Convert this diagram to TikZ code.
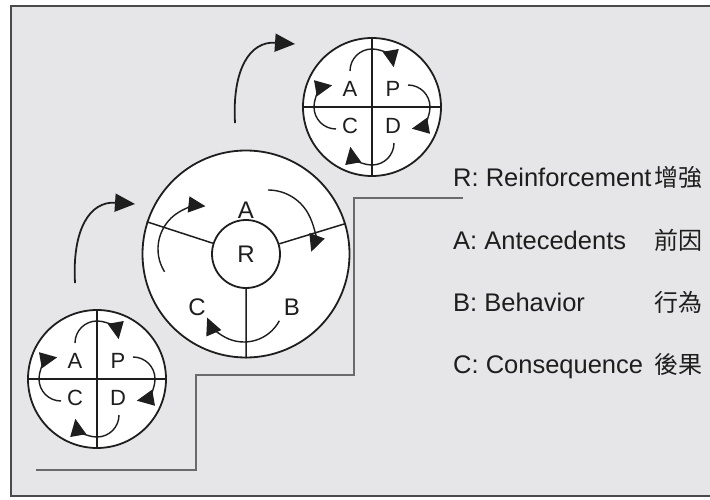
\documentclass[tikz,border=0pt]{standalone}
\usepackage{fontspec}
\setmainfont{Liberation Sans}
\newfontfamily\cjk{Noto Sans CJK TC}
\usetikzlibrary{arrows.meta}

\definecolor{paper}{HTML}{E6E6E8}
\definecolor{ink}{HTML}{1E1E1E}
\definecolor{stair}{HTML}{6A6A6A}
\definecolor{frame}{HTML}{4A4A4A}

\tikzset{
  wheel/.style={circle, draw=ink, line width=1.8pt, fill=white, inner sep=0pt},
  spoke/.style={ink, line width=1.5pt},
  cyc/.style={ink, line width=1.4pt, -{Triangle[length=17pt,width=16pt]}},
  leap/.style={ink, line width=1.8pt, -{Triangle[length=20pt,width=18pt]}},
  ltr/.style={text=ink, inner sep=0pt, font=\fontsize{22}{22}\selectfont},
  key/.style={text=ink, inner sep=0pt, font=\fontsize{25.5}{26}\selectfont},
  zh/.style={text=ink, inner sep=0pt, font=\fontsize{24}{24}\cjk},
}

\begin{document}
\begin{tikzpicture}[x=1pt,y=1pt]
\useasboundingbox (0,0) rectangle (710,499);
\draw[frame, line width=2.5pt, fill=paper] (11,3) rectangle (730,493);

% steps
\draw[stair, line width=2.8pt] (36,29) -- (196,29) -- (196,124) -- (354,124) -- (354,301) -- (463,301);

% jumps from one stage to the next
\foreach \s in {0,160}
  \draw[leap, shift={(\s,\s)}] (75,216) .. controls (72,270) and (90,298) .. (135,295);

% small P-D-C-A wheels
\foreach \n/\cx/\cy in {1/97/120, 2/372/392}{
  \node[wheel, minimum size=138pt] (pdca\n) at (\cx,\cy) {};
  \draw[spoke] (pdca\n.north) -- (pdca\n.south) (pdca\n.west) -- (pdca\n.east);
  \node[ltr] (a\n) at (\cx-22,\cy+18) {A};
  \node[ltr] (p\n) at (\cx+21,\cy+18) {P};
  \node[ltr] (c\n) at (\cx-22,\cy-19) {C};
  \node[ltr] (d\n) at (\cx+21,\cy-19) {D};
  \foreach \a in {90,0,-90,180}
    \draw[cyc] (\cx,\cy) ++(\a:36) ++(\a+90:22) arc[start angle=\a+90, end angle=\a-80, radius=22pt];
}

% A-B-C wheel around R
\node[wheel, minimum size=207pt] (abc) at (246,245) {};
\node[wheel, minimum size=68pt, font=\fontsize{24}{24}\selectfont, text=ink] (rcore) at (abc) {R};
\draw[spoke] (rcore.south) -- (abc.south) (rcore.17) -- (abc.17) (rcore.162) -- (abc.162);
\node[ltr, font=\fontsize{24}{24}\selectfont] (abcA) at (246,289) {A};
\node[ltr, font=\fontsize{24}{24}\selectfont] (abcB) at (292,192) {B};
\node[ltr, font=\fontsize{24}{24}\selectfont] (abcC) at (197,192) {C};
\draw[cyc] (246,245) ++(-45,5) ++(212:43) arc[start angle=212, end angle=84, radius=43pt];
\draw[cyc] (246,245) ++(22,18) ++(90:46) arc[start angle=90, end angle=-20, radius=46pt];
\draw[cyc] (246,245) ++(-2,-48) ++(-28:40) arc[start angle=-28, end angle=-157, radius=40pt];

% legend
\node[key, anchor=base west] (keyR) at (453,312) {R: Reinforcement};
\node[key, anchor=base west] (keyA) at (453,250) {A: Antecedents};
\node[key, anchor=base west] (keyB) at (453,188) {B: Behavior};
\node[key, anchor=base west] (keyC) at (453,126) {C: Consequence};
\node[zh, anchor=base east] (zhR) at (703,312) {增強};
\node[zh, anchor=base east] (zhA) at (703,250) {前因};
\node[zh, anchor=base east] (zhB) at (703,188) {行為};
\node[zh, anchor=base east] (zhC) at (703,126) {後果};
\end{tikzpicture}
\end{document}
